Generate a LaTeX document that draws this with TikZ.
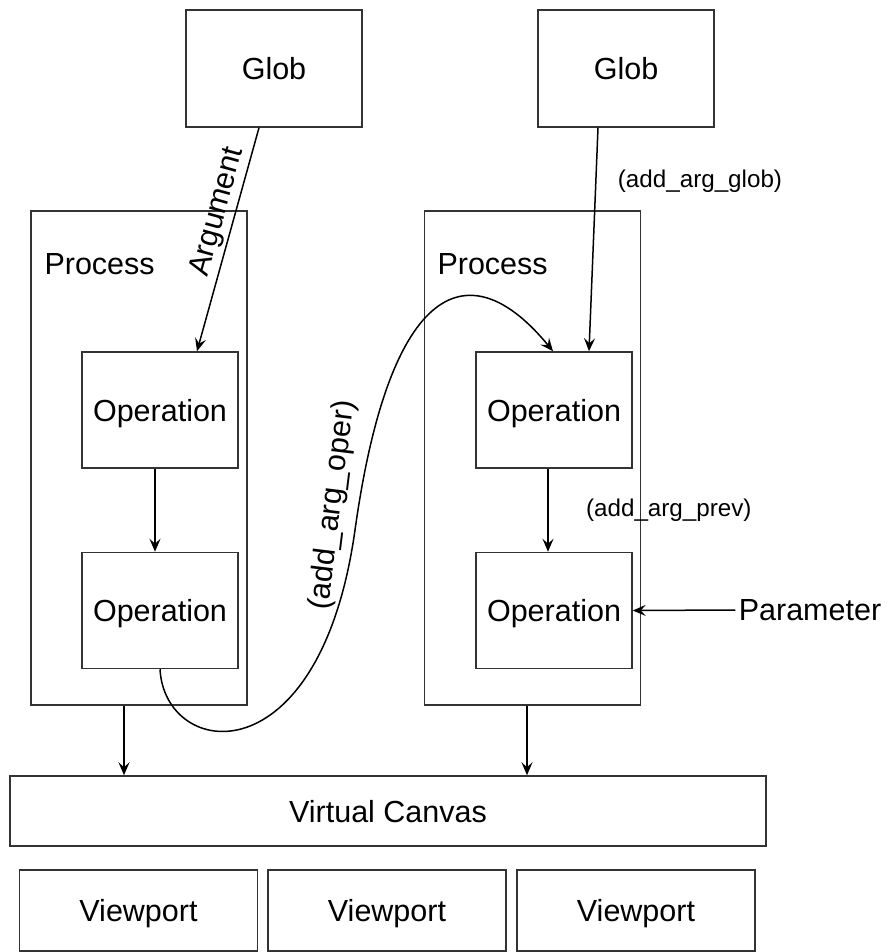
\documentclass[tikz,border=0pt]{standalone}
\usepackage{fontspec}
\setmainfont{Liberation Sans}
\usetikzlibrary{arrows.meta,
	calc,
	positioning
}
\tikzset{
	block/.style={draw=black!80, line width=1.5pt, text=black, inner sep=0pt, text depth=0pt},
	globbox/.style={block, minimum width=176pt, minimum height=117pt},
	procbox/.style={block, minimum width=216pt, minimum height=494pt},
	operbox/.style={block, minimum width=156pt, minimum height=116pt},
	canvasbox/.style={block, minimum width=756pt, minimum height=70pt},
	viewbox/.style={block, minimum width=238pt, minimum height=81pt},
	small/.style={font=\fontsize{24.2}{29}\selectfont, text=black},
	arr/.style={-{Stealth[length=13pt, width=11pt, inset=5pt]}, line width=1.5pt, black},
}

\begin{document}
\begin{tikzpicture}[x=1pt, y=-1pt, font=\fontsize{30.5}{36}\selectfont]

\useasboundingbox (0,0) rectangle (887,952);

% graph

\node[globbox] (glob1) at (274,68.5) {Glob};
\node[globbox] (glob2) at (626,68.5) {Glob};

\node[procbox] (proc1) at (139,458) {};
\node[procbox] (proc2) at (532.5,458) {};
\node[anchor=base west] (plabel1) at (41,274) {Process};
\node[anchor=base west] (plabel2) at (434,274) {Process};

\node[operbox] (op1) at (160,410) {Operation};
\node[operbox, below=83pt of op1] (op2) {Operation};
\node[operbox] (op3) at (554,410) {Operation};
\node[operbox, below=83pt of op3] (op4) {Operation};

\node (param) at (810,610) {Parameter};

\node[canvasbox] (canvas) at (388,811) {Virtual Canvas};

\node[viewbox] (view1) at (138.5,910.5) {Viewport};
\node[viewbox] (view2) at (387,910.5) {Viewport};
\node[viewbox] (view3) at (636,910.5) {Viewport};

\coordinate (bend) at (355,530);

% connections

\draw[arr] ([xshift=-15pt]glob1.south) -- ([xshift=37pt]op1.north);
\node[rotate=74.5] (arglbl) at (218,212) {Argument};

\draw[arr] ([xshift=-28pt]glob2.south) -- node[small, pos=0.24, right=18pt] (globlbl) {(add\_arg\_glob)} ([xshift=35pt]op3.north);

\draw[arr] ([xshift=-5pt]op1.south) -- ([xshift=-5pt]op2.north);
\draw[arr] ([xshift=-6pt]op3.south) -- node[small, right=34pt] (prevlbl) {(add\_arg\_prev)} ([xshift=-6pt]op4.north);

\draw[arr] (param.west) -- (op4.east);

\draw[arr] ([xshift=-15pt]proc1.south) -- ([xshift=-15pt]proc1.south |- canvas.north);
\draw[arr] ([xshift=-5.5pt]proc2.south) -- ([xshift=-5.5pt]proc2.south |- canvas.north);

\draw[arr]
(op2.south)
.. controls (165,760) and (320,780) .. (bend)
.. controls (390,280) and (470,250) .. ([xshift=-1pt]op3.north);
\node[rotate=83] (operlbl) at (333,505) {(add\_arg\_oper)};

\end{tikzpicture}
\end{document}
